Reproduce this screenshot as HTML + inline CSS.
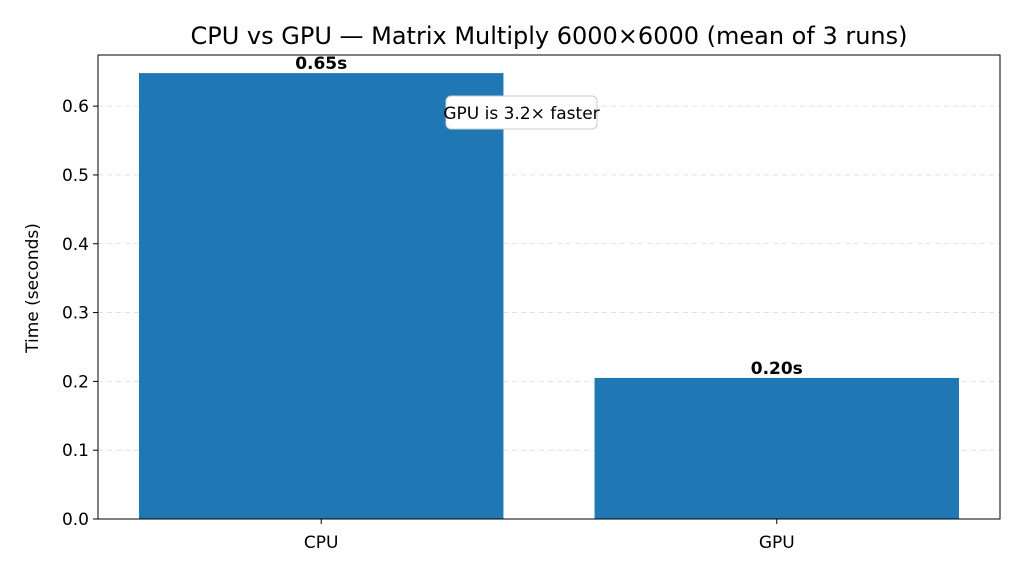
<!DOCTYPE html>
<html><head><meta charset="utf-8"><style>
body{margin:0;background:#fff;}
svg{display:block;font-family:"DejaVu Sans","Liberation Sans",sans-serif;}
</style></head><body>
<svg id="chart" width="1024" height="576" viewBox="0 0 1024 576">
<text x="549" y="44" text-anchor="middle" font-size="24" fill="#000">CPU vs GPU — Matrix Multiply 6000×6000 (mean of 3 runs)</text>
<g id="grid"></g>
<g id="bars"></g>
<g id="axes"></g>
<text transform="translate(38,288) rotate(-90)" text-anchor="middle" font-size="17" fill="#000">Time (seconds)</text>
<g>
<rect x="446" y="96" width="151" height="33" rx="5" fill="#fff" stroke="#ccc" stroke-width="1"/>
<text id="annot" x="521.5" y="119" text-anchor="middle" font-size="17" fill="#000">GPU is 3.2× faster</text>
</g>
</svg>
<script>
const categories=["CPU","GPU"];
const times=[0.648,0.205];
const valueLabels=["0.65s","0.20s"];
const yTicks=[0,0.1,0.2,0.3,0.4,0.5,0.6];
const yTickLabels=["0.0","0.1","0.2","0.3","0.4","0.5","0.6"];
const L=98,R=1000,T=55,B=519;
const xMin=-0.49,xMax=1.49,yMin=0,yMax=0.6743;
const sx=v=>L+(v-xMin)/(xMax-xMin)*(R-L);
const sy=v=>B-(v-yMin)/(yMax-yMin)*(B-T);
const NS="http://www.w3.org/2000/svg";
function mk(tag,attrs,parent,text){const e=document.createElementNS(NS,tag);for(const k in attrs)e.setAttribute(k,attrs[k]);if(text!==undefined)e.textContent=text;parent.appendChild(e);return e;}
const grid=document.getElementById('grid'),bars=document.getElementById('bars'),axes=document.getElementById('axes');
yTicks.forEach((t,i)=>{
  const g=mk('line',{x1:L,x2:R,y1:sy(t),y2:sy(t),stroke:'#ddd','stroke-dasharray':'5,4','stroke-width':0.8},grid);
  
  
  const tk=mk('line',{x1:L-5,x2:L,y1:sy(t),y2:sy(t),stroke:'#000','stroke-width':1},axes);
  
  
  const lb=mk('text',{x:L-9,y:sy(t)+6,'text-anchor':'end','font-size':17,fill:'#000'},axes,yTickLabels[i]);
  
  
});
categories.forEach((c,i)=>{
  const x0=sx(i-0.4),x1=sx(i+0.4);
  const r=mk('rect',{x:x0,y:sy(times[i]),width:x1-x0,height:sy(0)-sy(times[i]),fill:'#1f77b4'},bars);
  
  
  const v=mk('text',{x:sx(i),y:sy(times[i])-4,'text-anchor':'middle','font-size':17,'font-weight':'bold',fill:'#000'},bars,valueLabels[i]);
  
  
  const tk=mk('line',{x1:sx(i),x2:sx(i),y1:B,y2:B+5,stroke:'#000','stroke-width':1},axes);
  
  
  const lb=mk('text',{x:sx(i),y:B+29,'text-anchor':'middle','font-size':17,fill:'#000'},axes,c);
  
  
});
const fr=mk('rect',{x:L,y:T,width:R-L,height:B-T,fill:'none',stroke:'#000','stroke-width':1},axes);


</script>
</body></html>
